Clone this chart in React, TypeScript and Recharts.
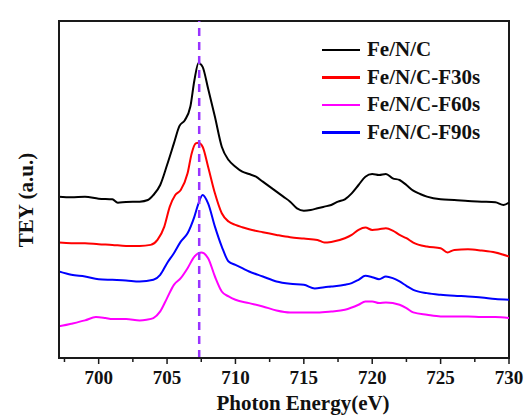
import { LineChart, Line, XAxis, YAxis, ReferenceLine, ReferenceArea } from "recharts";

// photon energy (eV) / TEY (a.u., stacked offsets as plotted)
const feNC = [
  [697.1, 485], [698, 483], [699, 485], [700, 479], [701, 477], [701.4, 467], [702, 469], [703, 470],
  [703.6, 475], [704, 490], [704.5, 520], [705, 580], [705.5, 645], [705.9, 697], [706.3, 715], [706.7, 755],
  [707, 835], [707.3, 887], [707.6, 875], [708, 810], [708.5, 725], [709, 635], [709.5, 595], [710, 575],
  [710.5, 560], [711, 553], [711.5, 545], [712, 530], [712.5, 515], [713, 500], [713.5, 485], [714, 470],
  [714.5, 450], [715, 443], [715.5, 445], [716, 450], [716.5, 455], [717, 460], [717.5, 470], [718, 477],
  [718.5, 495], [719, 520], [719.5, 545], [720, 553], [720.5, 550], [721, 553], [721.5, 540], [722, 535],
  [722.5, 520], [723, 503], [723.5, 493], [724, 485], [725, 477], [726, 475], [727, 472], [728, 470],
  [729, 468], [729.6, 460], [730, 467],
];

const feNC30 = [
  [697.1, 347], [698, 345], [699, 345], [700, 342], [701, 340], [702, 337], [703, 337], [703.8, 340],
  [704.3, 355], [704.8, 395], [705.2, 455], [705.6, 490], [706, 505], [706.5, 555], [706.8, 615], [707.1, 645],
  [707.3, 647], [707.6, 635], [708, 575], [708.5, 495], [709, 435], [709.5, 410], [710, 400], [710.5, 393],
  [711, 387], [712, 378], [713, 370], [714, 363], [715, 359], [716, 355], [716.5, 347], [717, 349],
  [718, 360], [718.5, 370], [719, 385], [719.5, 392], [720, 385], [720.5, 387], [721, 390], [721.5, 383],
  [722, 370], [722.5, 360], [723, 347], [724, 335], [725, 330], [725.5, 317], [726, 325], [727, 327],
  [728, 323], [729, 317], [730, 305],
];

const feNC60 = [
  [697.1, 95], [698, 103], [699, 113], [699.8, 123], [700.5, 120], [701, 117], [702, 117], [703, 113],
  [703.5, 115], [704, 120], [704.5, 140], [705, 180], [705.5, 220], [706, 240], [706.5, 270], [707, 305],
  [707.3, 315], [707.5, 317], [708, 300], [708.5, 245], [709, 200], [709.5, 185], [710, 175], [711, 165],
  [712, 155], [713, 143], [714, 137], [715, 137], [716, 137], [717, 140], [718, 145], [719, 160],
  [719.5, 170], [720, 170], [720.5, 165], [721, 167], [722, 160], [722.5, 150], [723, 137], [724, 130],
  [725, 125], [726, 125], [727, 125], [728, 123], [729, 123], [730, 120],
];

const feNC90 = [
  [697.1, 260], [698, 250], [699, 245], [700, 237], [701, 235], [702, 233], [703, 230], [704, 235],
  [704.5, 250], [705, 285], [705.5, 315], [706, 350], [706.5, 375], [707, 425], [707.3, 465], [707.6, 490],
  [708, 465], [708.5, 395], [709, 335], [709.5, 290], [710, 280], [710.5, 270], [711, 260], [712, 245],
  [713, 230], [714, 223], [715, 220], [715.8, 209], [716.5, 213], [717, 215], [718, 220], [718.5, 225],
  [719, 235], [719.5, 247], [720, 243], [720.5, 237], [721, 245], [721.5, 240], [722, 230], [722.5, 217],
  [723, 205], [724, 195], [725, 190], [726, 187], [727, 185], [728, 182], [729, 177], [730, 175],
];

const majorTicks = [700, 705, 710, 715, 720, 725, 730];
const allTicks = [697.5, 700, 702.5, 705, 707.5, 710, 712.5, 715, 717.5, 720, 722.5, 725, 727.5, 730];
const peakEnergy = 707.35;
const xDomain = [697.1, 730];
const yDomain = [0, 1013];

const series = [
  { name: "Fe/N/C", color: "#000000", data: feNC },
  { name: "Fe/N/C-F30s", color: "#ff0000", data: feNC30 },
  { name: "Fe/N/C-F60s", color: "#ff00ff", data: feNC60 },
  { name: "Fe/N/C-F90s", color: "#0000ff", data: feNC90 },
];

const font = "'Liberation Serif', 'Times New Roman', serif";
const axisColor = "#1a1a1a";

function XTick(props: any) {
  const { x, y, payload } = props;
  const major = majorTicks.includes(payload.value);
  return (
    <g>
      <line x1={x} x2={x} y1={y} y2={y + (major ? 6 : 4)} stroke={axisColor} strokeWidth={1.5} />
      {major && (
        <text x={x} y={y + 26} textAnchor="middle" fontFamily={font} fontWeight="bold" fontSize={19} fill="#111">
          {payload.value}
        </text>
      )}
    </g>
  );
}

function LegendBox() {
  return (
    <div
      style={{
        position: "absolute",
        left: 322,
        top: 36,
        fontFamily: font,
        fontWeight: "bold",
        fontSize: 21,
        color: "#111",
      }}
    >
      {series.map((s) => (
        <div key={s.name} style={{ display: "flex", alignItems: "center", height: 27.5 }}>
          <span style={{ display: "inline-block", width: 38, height: 2.5, background: s.color, marginRight: 7 }} />
          <span>{s.name}</span>
        </div>
      ))}
    </div>
  );
}

function YLabel() {
  return (
    <text
      x={26}
      y={200}
      transform="rotate(-90 26 200)"
      textAnchor="middle"
      dominantBaseline="central"
      fontFamily={font}
      fontWeight="bold"
      fontSize={21}
      fill="#111"
    >
      TEY (a.u.)
    </text>
  );
}

function XLabel() {
  return (
    <text x={303} y={410} textAnchor="middle" fontFamily={font} fontWeight="bold" fontSize={21} fill="#111">
      Photon Energy(eV)
    </text>
  );
}

export default function App() {
  return (
    <div style={{ position: "absolute", left: 0, top: 0, width: 526, height: 415, background: "#fff" }}>
      <LineChart width={526} height={415} margin={{ top: 21, right: 17, bottom: 0, left: 0 }}>
        <XAxis
          xAxisId="b"
          type="number"
          dataKey="0"
          domain={xDomain}
          ticks={allTicks}
          allowDataOverflow
          interval={0}
          tickSize={0}
          tickMargin={0}
          tick={<XTick />}
          axisLine={{ stroke: axisColor, strokeWidth: 2 }}
          height={57}
          label={<XLabel />}
        />
        <YAxis
          yAxisId="l"
          type="number"
          domain={yDomain}
          allowDataOverflow
          tick={false}
          tickLine={false}
          axisLine={{ stroke: axisColor, strokeWidth: 2 }}
          width={59}
          label={<YLabel />}
        />
        <ReferenceArea
          xAxisId="b"
          yAxisId="l"
          x1={xDomain[0]}
          x2={xDomain[1]}
          y1={yDomain[0]}
          y2={yDomain[1]}
          fill="none"
          fillOpacity={0}
          stroke={axisColor}
          strokeWidth={2}
        />
        {series.map((s) => (
          <Line
            key={s.name}
            xAxisId="b"
            yAxisId="l"
            data={s.data}
            dataKey="1"
            name={s.name}
            type="monotone"
            stroke={s.color}
            strokeWidth={2}
            dot={false}
            isAnimationActive={false}
          />
        ))}
        <ReferenceLine
          xAxisId="b"
          yAxisId="l"
          x={peakEnergy}
          stroke="#9933ff"
          strokeWidth={2.5}
          strokeDasharray="8 6"
        />
      </LineChart>
      <LegendBox />
    </div>
  );
}
